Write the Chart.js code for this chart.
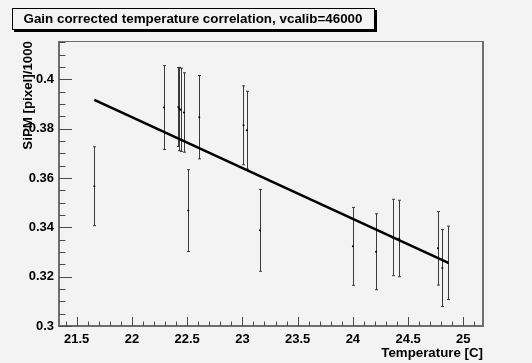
<!DOCTYPE html>
<html>
<head>
<meta charset="utf-8">
<script src="https://cdn.jsdelivr.net/npm/chart.js@4.4.0/dist/chart.umd.min.js"></script>
<style>
  html, body { margin: 0; padding: 0; background: #f3f3f3; }
  canvas { display: block; }
</style>
</head>
<body>
<canvas id="chart" width="532" height="363"></canvas>
<script>
// Measured points: temperature [C] vs SiPM signal [pixel]/1000 with errors
const temperature = [21.66, 22.29, 22.42, 22.43, 22.44, 22.47, 22.51, 22.61, 23.01, 23.04, 23.16, 24.00, 24.21, 24.36, 24.42, 24.77, 24.81, 24.86];
const sipm        = [0.3567, 0.3886, 0.3888, 0.3880, 0.3877, 0.3866, 0.3468, 0.3847, 0.3814, 0.3794, 0.3388, 0.3323, 0.3301, 0.3359, 0.3355, 0.3315, 0.3235, 0.3256];
const sipmErr     = [0.0160, 0.0170, 0.0160, 0.0169, 0.0169, 0.0161, 0.0166, 0.0169, 0.0160, 0.0158, 0.0166, 0.0158, 0.0154, 0.0155, 0.0155, 0.0149, 0.0156, 0.0149];

// Linear fit drawn across the measured temperature range
const fitTemperature = [21.66, 24.86];
const fitSipm        = [0.3917, 0.3257];

// Axis labels
const xTickValues = [21.5, 22, 22.5, 23, 23.5, 24, 24.5, 25];
const yTickValues = [0.3, 0.32, 0.34, 0.36, 0.38, 0.4];
const xMinorStep = 0.1, xMajorStep = 0.5;
const yMinorStep = 0.005, yMajorStep = 0.02;

const titleText = 'Gain corrected temperature correlation, vcalib=46000';
const fontFamily = '"Liberation Sans", Arial, Helvetica, sans-serif';
const bg = '#f3f3f3';

const fmt = v => String(Math.round(v * 1000) / 1000);

const rootStyle = {
  id: 'rootStyle',
  beforeDraw(chart) {
    const ctx = chart.ctx;
    ctx.save();
    ctx.fillStyle = bg;
    ctx.fillRect(0, 0, chart.width, chart.height);
    ctx.restore();
  },
  beforeDatasetsDraw(chart) {
    // vertical error bars with small end caps
    const ctx = chart.ctx, xs = chart.scales.x, ys = chart.scales.y;
    ctx.save();
    ctx.strokeStyle = '#3a3a3a';
    ctx.lineWidth = 1;
    ctx.beginPath();
    temperature.forEach((t, i) => {
      const px = Math.round(xs.getPixelForValue(t)) + 0.5;
      const y1 = ys.getPixelForValue(sipm[i] + sipmErr[i]);
      const y2 = ys.getPixelForValue(sipm[i] - sipmErr[i]);
      ctx.moveTo(px, y1); ctx.lineTo(px, y2);
      ctx.moveTo(px - 1.5, y1); ctx.lineTo(px + 1.5, y1);
      ctx.moveTo(px - 1.5, y2); ctx.lineTo(px + 1.5, y2);
    });
    ctx.stroke();
    ctx.restore();
  },
  afterDraw(chart) {
    const ctx = chart.ctx, a = chart.chartArea, xs = chart.scales.x, ys = chart.scales.y;
    ctx.save();
    // frame
    ctx.strokeStyle = '#6e6e6e';
    ctx.lineWidth = 2;
    ctx.beginPath();
    ctx.moveTo(a.left, a.top); ctx.lineTo(a.left, a.bottom); ctx.lineTo(a.right, a.bottom); ctx.lineTo(a.right, a.top);
    ctx.stroke();
    ctx.lineWidth = 1;
    ctx.beginPath();
    ctx.moveTo(a.left, a.top + 0.5); ctx.lineTo(a.right, a.top + 0.5);
    ctx.stroke();

    // inward ticks
    ctx.strokeStyle = '#4a4a4a';
    ctx.lineWidth = 1;
    ctx.beginPath();
    for (let k = Math.ceil(xs.min / xMinorStep - 1e-6); k * xMinorStep <= xs.max + 1e-9; k++) {
      const v = k * xMinorStep;
      const major = Math.abs(v / xMajorStep - Math.round(v / xMajorStep)) < 1e-6;
      const px = Math.round(xs.getPixelForValue(v)) + 0.5;
      ctx.moveTo(px, a.bottom); ctx.lineTo(px, a.bottom - (major ? 9 : 4.5));
    }
    for (let k = Math.ceil(ys.min / yMinorStep - 1e-6); k * yMinorStep <= ys.max + 1e-9; k++) {
      const v = k * yMinorStep;
      const major = Math.abs(v / yMajorStep - Math.round(v / yMajorStep)) < 1e-6;
      const py = Math.round(ys.getPixelForValue(v)) + 0.5;
      ctx.moveTo(a.left, py); ctx.lineTo(a.left + (major ? 13 : 6.5), py);
    }
    ctx.stroke();

    // title box with drop shadow
    const bx = 12, by = 8, bw = 363, bh = 22;
    ctx.fillStyle = '#000';
    ctx.fillRect(bx + 2, by + 2, bw, bh);
    ctx.fillStyle = bg;
    ctx.fillRect(bx, by, bw, bh);
    ctx.strokeStyle = '#000';
    ctx.lineWidth = 1;
    ctx.strokeRect(bx + 0.5, by + 0.5, bw - 1, bh - 1);
    ctx.fillStyle = '#000';
    ctx.font = 'bold 13.4px ' + fontFamily;
    ctx.textAlign = 'center';
    ctx.textBaseline = 'middle';
    ctx.fillText(titleText, 193, by + bh / 2 + 0.5);
    ctx.restore();
  }
};

new Chart(document.getElementById('chart'), {
  data: {
    datasets: [
      {
        type: 'scatter',
        data: temperature.map((t, i) => ({ x: t, y: sipm[i] })),
        pointRadius: 1,
        pointBorderWidth: 0,
        pointBackgroundColor: '#000',
        order: 2
      },
      {
        type: 'line',
        data: fitTemperature.map((t, i) => ({ x: t, y: fitSipm[i] })),
        borderColor: '#000',
        borderWidth: 2.6,
        pointRadius: 0,
        fill: false,
        order: 1
      }
    ]
  },
  options: {
    responsive: false,
    devicePixelRatio: 1,
    animation: false,
    layout: { padding: { top: 41, right: 49, bottom: 0, left: 0 } },
    plugins: { legend: { display: false }, tooltip: { enabled: false }, title: { display: false } },
    scales: {
      x: {
        type: 'linear',
        min: 21.34,
        max: 25.178,
        afterBuildTicks: s => { s.ticks = xTickValues.map(v => ({ value: v })); },
        afterFit: s => { s.height = 37; },
        grid: { display: false, drawTicks: false },
        border: { display: false },
        ticks: {
          autoSkip: false, maxRotation: 0, padding: 6, color: '#000',
          font: { family: fontFamily, size: 13, weight: 'bold' },
          callback: v => fmt(v)
        },
        title: {
          display: true, text: 'Temperature [C]', align: 'end', color: '#000',
          font: { family: fontFamily, size: 13.3, weight: 'bold' },
          padding: { top: 0, bottom: 2 }
        }
      },
      y: {
        type: 'linear',
        min: 0.3,
        max: 0.4156,
        afterBuildTicks: s => { s.ticks = yTickValues.map(v => ({ value: v })); },
        afterFit: s => { s.width = 59; },
        grid: { display: false, drawTicks: false },
        border: { display: false },
        ticks: {
          autoSkip: false, padding: 5, color: '#000',
          font: { family: fontFamily, size: 13, weight: 'bold' },
          callback: v => fmt(v)
        },
        title: {
          display: true, text: 'SiPM [pixel]/1000', align: 'end', color: '#000',
          font: { family: fontFamily, size: 13.3, weight: 'bold' },
          padding: { top: 20, bottom: 0 }
        }
      }
    }
  },
  plugins: [rootStyle]
});
</script>
</body>
</html>
